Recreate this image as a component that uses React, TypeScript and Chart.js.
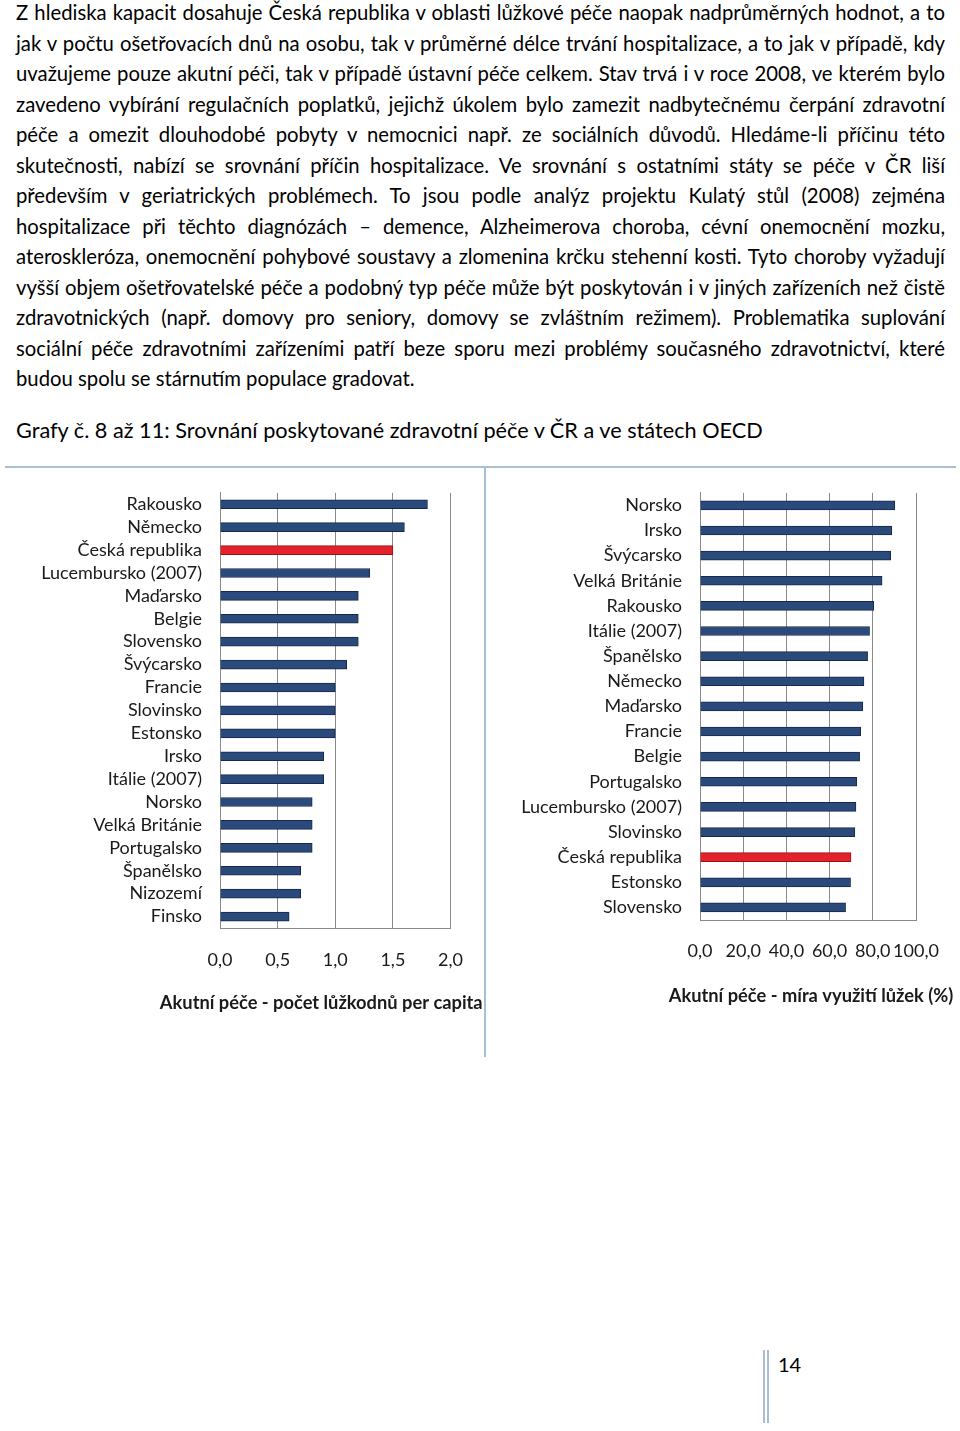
import React, { useEffect, useRef } from "react";
import { Chart, registerables } from "chart.js";

Chart.register(...registerables);

// ---- Data ----
const bedDaysCountries = [
  "Rakousko",
  "Německo",
  "Česká republika",
  "Lucembursko (2007)",
  "Maďarsko",
  "Belgie",
  "Slovensko",
  "Švýcarsko",
  "Francie",
  "Slovinsko",
  "Estonsko",
  "Irsko",
  "Itálie (2007)",
  "Norsko",
  "Velká Británie",
  "Portugalsko",
  "Španělsko",
  "Nizozemí",
  "Finsko",
];
const bedDaysValues = [1.8, 1.6, 1.5, 1.3, 1.2, 1.2, 1.2, 1.1, 1.0, 1.0, 1.0, 0.9, 0.9, 0.8, 0.8, 0.8, 0.7, 0.7, 0.6];
const bedDaysTickLabels = ["0,0", "0,5", "1,0", "1,5", "2,0"];
const bedDaysTitle = "Akutní péče - počet lůžkodnů per capita";

const occupancyCountries = [
  "Norsko",
  "Irsko",
  "Švýcarsko",
  "Velká Británie",
  "Rakousko",
  "Itálie (2007)",
  "Španělsko",
  "Německo",
  "Maďarsko",
  "Francie",
  "Belgie",
  "Portugalsko",
  "Lucembursko (2007)",
  "Slovinsko",
  "Česká republika",
  "Estonsko",
  "Slovensko",
];
const occupancyValues = [90.2, 88.8, 88.3, 84.3, 80.4, 78.5, 77.6, 75.9, 75.3, 74.4, 73.9, 72.6, 72.2, 71.7, 69.9, 69.7, 67.4];
const occupancyTickLabels = ["0,0", "20,0", "40,0", "60,0", "80,0", "100,0"];
const occupancyTitle = "Akutní péče - míra využití lůžek (%)";

const highlightCountry = "Česká republika";

const paragraphLines = [
  "Z hlediska kapacit dosahuje Česká republika v oblasti lůžkové péče naopak nadprůměrných hodnot, a to",
  "jak v počtu ošetřovacích dnů na osobu, tak v průměrné délce trvání hospitalizace, a to jak v případě, kdy",
  "uvažujeme pouze akutní péči, tak v případě ústavní péče celkem. Stav trvá i v roce 2008, ve kterém bylo",
  "zavedeno vybírání regulačních poplatků, jejichž úkolem bylo zamezit nadbytečnému čerpání zdravotní",
  "péče a omezit dlouhodobé pobyty v nemocnici např. ze sociálních důvodů. Hledáme-li příčinu této",
  "skutečnosti, nabízí se srovnání příčin hospitalizace. Ve srovnání s ostatními státy se péče v ČR liší",
  "především v geriatrických problémech. To jsou podle analýz projektu Kulatý stůl (2008) zejména",
  "hospitalizace při těchto diagnózách – demence, Alzheimerova choroba, cévní onemocnění mozku,",
  "ateroskleróza, onemocnění pohybové soustavy a zlomenina krčku stehenní kosti. Tyto choroby vyžadují",
  "vyšší objem ošetřovatelské péče a podobný typ péče může být poskytován i v jiných zařízeních než čistě",
  "zdravotnických (např. domovy pro seniory, domovy se zvláštním režimem). Problematika suplování",
  "sociální péče zdravotními zařízeními patří beze sporu mezi problémy současného zdravotnictví, které",
  "budou spolu se stárnutím populace gradovat.",
];
const heading = "Grafy č. 8 až 11: Srovnání poskytované zdravotní péče v ČR a ve státech OECD";
const pageNumber = "14";

const FONT = "Lato, 'Open Sans', sans-serif";
const NAVY = "#2b4a7c";
const NAVY_BORDER = "#17294a";
const RED = "#e3222a";
const RED_BORDER = "#9c1015";
const FRAME = "#a9bdd5";

// Draws the value-axis title below the tick labels (without Chart.js's width squeeze)
const axisTitlePlugin = {
  id: "axisTitle",
  afterDraw(chart: any, _args: any, opts: any) {
    const { ctx, chartArea } = chart;
    ctx.save();
    ctx.font = `bold 18.3px ${FONT}`;
    ctx.fillStyle = "#1a1a1a";
    ctx.textAlign = "center";
    ctx.textBaseline = "middle";
    ctx.fillText(opts.text, (chartArea.left + chartArea.right) / 2 + opts.shift, chartArea.bottom + opts.offsetY);
    ctx.restore();
  },
};

type ChartProps = {
  labels: string[];
  values: number[];
  tickLabels: string[];
  max: number;
  step: number;
  title: string;
  titleShift: number;
  titleOffsetY: number;
  width: number;
  height: number;
  yAxisWidth: number;
  padRight: number;
  xAxisHeight: number;
  tickPad: number;
};

function BarChart(p: ChartProps) {
  const ref = useRef<HTMLCanvasElement | null>(null);
  useEffect(() => {
    if (!ref.current) return;
    const colors = p.labels.map((c) => (c === highlightCountry ? RED : NAVY));
    const borders = p.labels.map((c) => (c === highlightCountry ? RED_BORDER : NAVY_BORDER));
    const chart = new Chart(ref.current, {
      type: "bar",
      data: {
        labels: p.labels,
        datasets: [
          {
            data: p.values,
            backgroundColor: colors,
            borderColor: borders,
            borderWidth: 1,
            barThickness: 9,
          },
        ],
      },
      plugins: [axisTitlePlugin],
      options: {
        indexAxis: "y",
        animation: false,
        responsive: false,
        layout: { padding: { top: 0, right: p.padRight, left: 0, bottom: 0 } },
        plugins: {
          legend: { display: false },
          tooltip: { enabled: false },
          axisTitle: { text: p.title, shift: p.titleShift, offsetY: p.titleOffsetY },
        },
        scales: {
          x: {
            min: 0,
            max: p.max,
            afterFit: (s: any) => {
              s.height = p.xAxisHeight;
            },
            ticks: {
              stepSize: p.step,
              autoSkip: false,
              maxRotation: 0,
              padding: p.tickPad,
              color: "#1a1a1a",
              font: { family: FONT, size: 18 },
              callback: (_v: any, i: number) => p.tickLabels[i],
            },
            grid: { color: "#8a8a8a", drawTicks: false, lineWidth: 1 },
            border: { color: "#8a8a8a" },
          },
          y: {
            afterFit: (s: any) => {
              s.width = p.yAxisWidth;
            },
            ticks: {
              autoSkip: false,
              padding: 18,
              color: "#1a1a1a",
              font: { family: FONT, size: 18 },
            },
            grid: { display: false, drawTicks: false },
            border: { color: "#8a8a8a" },
          },
        },
      },
    } as any);
    return () => chart.destroy();
  }, []);
  return <canvas ref={ref} width={p.width} height={p.height} style={{ display: "block", width: p.width, height: p.height }} />;
}

export default function App() {
  return (
    <div style={{ position: "absolute", left: 0, top: 0, width: 960, height: 1431, background: "#fff", overflow: "hidden", fontFamily: FONT, color: "#000" }}>
      <div style={{ position: "absolute", left: 16, top: -3, width: 929 }}>
        {paragraphLines.map((line, i) => (
          <div
            key={i}
            style={{
              fontSize: 20.3,
              lineHeight: "30.5px",
              height: 30.5,
              whiteSpace: "nowrap",
              textAlign: i === paragraphLines.length - 1 ? "left" : "justify",
              textAlignLast: i === paragraphLines.length - 1 ? "left" : "justify",
            }}
          >
            {line}
          </div>
        ))}
      </div>
      <div style={{ position: "absolute", left: 16, top: 415, fontSize: 21.7, lineHeight: "30px", whiteSpace: "nowrap" }}>{heading}</div>

      {/* frame lines */}
      <div style={{ position: "absolute", left: 5, top: 466, width: 951, height: 2, background: FRAME }} />
      <div style={{ position: "absolute", left: 484, top: 467, width: 2, height: 590, background: FRAME }} />

      <div style={{ position: "absolute", left: 0, top: 464 }}>
        <BarChart
          labels={bedDaysCountries}
          values={bedDaysValues}
          tickLabels={bedDaysTickLabels}
          max={2}
          step={0.5}
          title={bedDaysTitle}
          titleShift={-14}
          titleOffsetY={75}
          width={484}
          height={554}
          yAxisWidth={220}
          padRight={28}
          xAxisHeight={90}
          tickPad={21}
        />
      </div>
      <div style={{ position: "absolute", left: 487, top: 464 }}>
        <BarChart
          labels={occupancyCountries}
          values={occupancyValues}
          tickLabels={occupancyTickLabels}
          max={100}
          step={20}
          title={occupancyTitle}
          titleShift={3}
          titleOffsetY={76}
          width={473}
          height={547}
          yAxisWidth={213}
          padRight={44}
          xAxisHeight={91}
          tickPad={20}
        />
      </div>

      {/* page number */}
      <div style={{ position: "absolute", left: 763, top: 1350, width: 2, height: 73, background: FRAME }} />
      <div style={{ position: "absolute", left: 767, top: 1350, width: 2, height: 73, background: FRAME }} />
      <div style={{ position: "absolute", left: 778, top: 1351, fontSize: 20, lineHeight: "26px" }}>{pageNumber}</div>
    </div>
  );
}
